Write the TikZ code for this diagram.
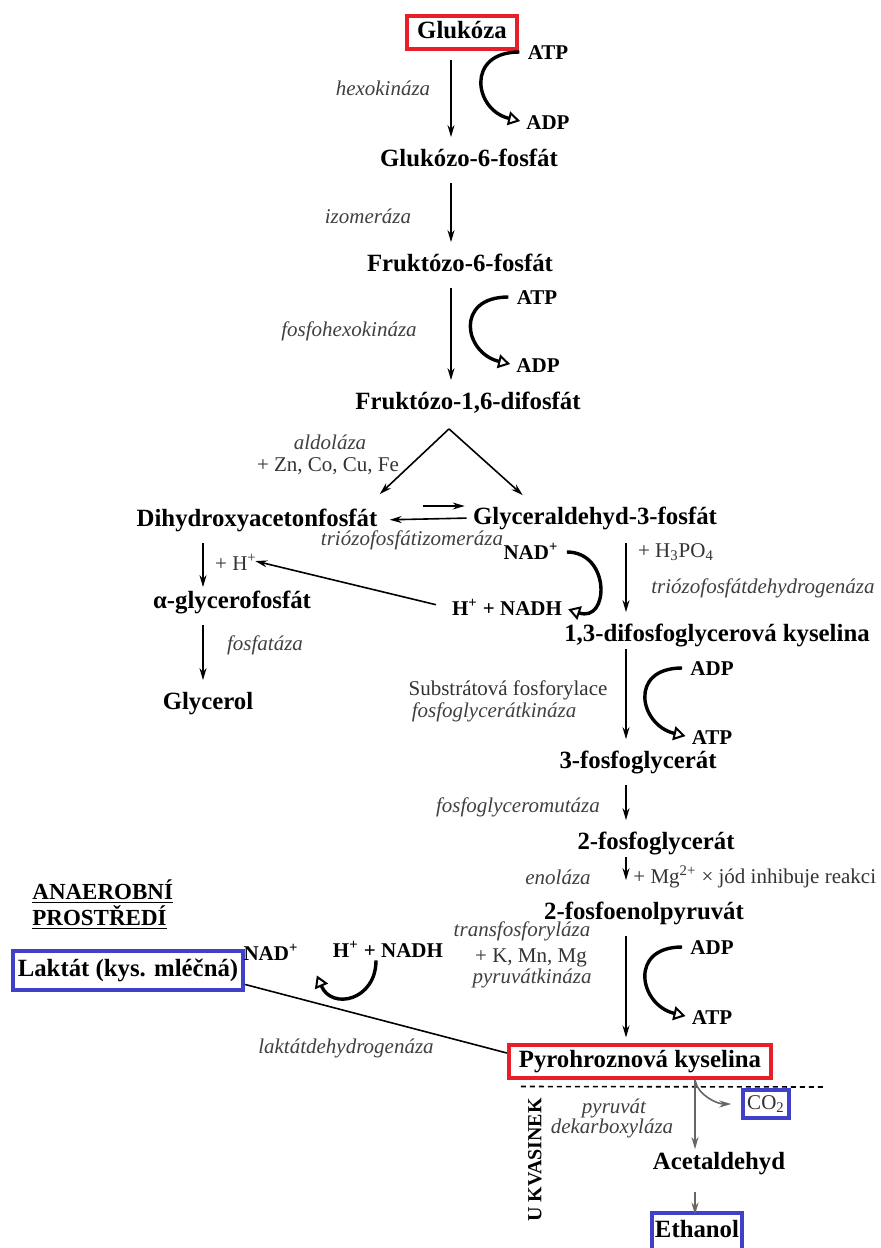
\documentclass[tikz,border=0pt]{standalone}
\usepackage{fontspec}
\setmainfont{Liberation Serif}
\usepackage{tikz}
\usetikzlibrary{arrows.meta,calc,positioning}

\newcommand{\metsize}{\fontsize{12.4}{14}\selectfont}
\newcommand{\labsize}{\fontsize{10.5}{12.5}\selectfont}
\definecolor{boxred}{RGB}{232,30,40}
\definecolor{boxblue}{RGB}{64,64,200}

\begin{document}
\begin{tikzpicture}[x=0.5pt,y=-0.5pt,
  met/.style={font=\metsize\bfseries, inner sep=1pt, text height=9pt, text depth=2.5pt},
  cof/.style={font=\labsize\bfseries, inner sep=1pt, text height=7.5pt, text depth=0.5pt},
  enz/.style={font=\labsize\itshape, text=black!75, inner sep=1pt},
  note/.style={font=\labsize, text=black!80, inner sep=1pt},
  redbox/.style={draw=boxred, line width=2pt, inner xsep=5pt, inner ysep=2.5pt},
  bluebox/.style={draw=boxblue, line width=2pt},
  reac/.style={-{Stealth[length=6pt,width=3.5pt]}, line width=0.8pt, shorten <=4.5pt, shorten >=4.5pt},
  cyc/.style={-{Triangle[open,length=6pt,width=7pt,line width=1pt]}, line width=1.7pt, shorten <=3pt, shorten >=2pt},
  yeast/.style={reac, draw=black!60, line width=0.9pt}]

\path[use as bounding box, fill=white] (0,0) rectangle (881,1248);

\coordinate (sp1) at (451,0);
\coordinate (sp2) at (626,0);
\coordinate (sp3) at (203,0);
\coordinate (ysp) at (695,0);

\node[met, redbox] (glc) at (462,32) {Glukóza};
\node[cof] (atp1) at (548,52) {ATP};
\node[cof] (adp1) at (548,122) {ADP};
\node[enz] (hk) at (383,88) {hexokináza};
\node[met] (g6p) at (469,160) {Glukózo-6-fosfát};
\node[enz] (izo) at (368,216) {izomeráza};
\node[met] (f6p) at (460,265) {Fruktózo-6-fosfát};
\node[cof] (atp2) at (537,297) {ATP};
\node[cof] (adp2) at (538,365) {ADP};
\node[enz] (pfk) at (349,331) {fosfohexokináza};
\node[met] (f16) at (468,403) {Fruktózo-1,6-difosfát};
\node[enz] (ald) at (330,442) {aldoláza};
\node[note] (zn) at (328,466) {+ Zn, Co, Cu, Fe};

\node[met] (dhap) at (257,520) {Dihydroxyacetonfosfát};
\node[met] (g3p) at (595,518) {Glyceraldehyd-3-fosfát};
\node[enz] (tim) at (412,540) {triózofosfátizomeráza};
\node[cof] (nad1) at (531,552) {NAD\textsuperscript{+}};
\node[cof] (nadh1) at (507,608) {H\textsuperscript{+} + NADH};
\node[note] (hplus) at (236,562) {+ H\textsuperscript{+}};
\node[met] (agp) at (232,602) {α-glycerofosfát};
\node[enz] (fos) at (265,645) {fosfatáza};
\node[met] (gly) at (208,703) {Glycerol};
\node[note] (pi) at (676,552) {+ H\textsubscript{3}PO\textsubscript{4}};
\node[enz] (gapdh) at (763,588) {triózofosfátdehydrogenáza};

\node[met] (bpg) at (717,635) {1,3-difosfoglycerová kyselina};
\node[cof] (adp3) at (712,668) {ADP};
\node[cof] (atp3) at (712,737) {ATP};
\node[note] (sub) at (508,690) {Substrátová fosforylace};
\node[enz] (pgk) at (494,712) {fosfoglycerátkináza};
\node[met] (pg3) at (638,762) {3-fosfoglycerát};
\node[enz] (pgm) at (518,807) {fosfoglyceromutáza};
\node[met] (pg2) at (656,843) {2-fosfoglycerát};
\node[enz] (eno) at (558,877) {enoláza};
\node[note, anchor=west] (mg) at (631,877) {+ Mg\textsuperscript{2+} × jód inhibuje reakci};
\node[met] (pep) at (644,913) {2-fosfoenolpyruvát};
\node[enz] (tpl) at (522,931) {transfosforyláza};
\node[note] (kmn) at (531,958) {+ K, Mn, Mg};
\node[enz] (pk) at (532,978) {pyruvátkináza};
\node[cof] (adp4) at (712,947) {ADP};
\node[cof] (atp4) at (712,1017) {ATP};
\node[met, redbox] (pyr) at (640,1061) {Pyrohroznová kyselina};

\node[note, bluebox, inner xsep=2pt, inner ysep=2.5pt] (co2) at (766,1104) {CO\textsubscript{2}};
\node[enz] (pdc1) at (614,1108) {pyruvát};
\node[enz] (pdc2) at (612,1128) {dekarboxyláza};
\node[font=\fontsize{10}{12}\selectfont\bfseries, rotate=90, inner sep=0pt] (kvas) at (535,1160) {U KVASINEK};
\node[met] (acet) at (719,1163) {Acetaldehyd};
\node[met, bluebox, inner xsep=1.5pt, inner ysep=3.5pt] (eth) at (697,1231) {Ethanol};
\coordinate (dashend) at (825,1087);

\node[font=\fontsize{11.5}{12}\selectfont\bfseries, anchor=west, align=left, inner sep=0pt] (anaer) at (32,905) {\underline{ANAEROBNÍ}\\\underline{PROSTŘEDÍ}};
\node[met, bluebox, inner xsep=2.5pt, inner ysep=4pt] (lak) at (128,970) {Laktát (kys. mléčná)};
\node[cof] (nad2) at (271,953) {NAD\textsuperscript{+}};
\node[cof] (nadh2) at (388,950) {H\textsuperscript{+} + NADH};
\node[enz] (ldh) at (346,1048) {laktátdehydrogenáza};

\draw[reac] (glc.south -| sp1) -- (g6p.north -| sp1);
\draw[reac] (g6p.south -| sp1) -- (f6p.north -| sp1);
\draw[reac] (f6p.south -| sp1) -- (f16.north -| sp1);
\draw[cyc] (atp1.west) .. controls +(-60,0) and +(-50,-12) .. (adp1.west);
\draw[cyc] (atp2.west) .. controls +(-60,0) and +(-50,-12) .. (adp2.west);

\coordinate (apex) at ([xshift=-9.5pt,yshift=-6pt]f16.south);
\draw[reac, shorten <=0pt, shorten >=0pt] (apex) -- ([yshift=6pt]dhap.north east);
\draw[reac, shorten <=0pt, shorten >=0pt] (apex) -- ([xshift=26pt,yshift=4.5pt]g3p.north west);
\draw[reac, shorten <=2pt, shorten >=5pt] (g3p.west) -- (dhap.east);
\draw[reac, line width=0.6pt, shorten <=0pt, shorten >=0pt] ([xshift=-24pt,yshift=6pt]g3p.west) -- ([xshift=-3pt,yshift=6pt]g3p.west);

\draw[cyc] (nad1.east) .. controls +(50,0) and +(45,15) .. (nadh1.east);
\draw[reac, shorten <=7pt, shorten >=-2pt] (nadh1.west) -- (hplus.east);
\draw[reac, shorten >=0.5pt] (dhap.south -| sp3) -- (agp.north -| sp3);
\draw[reac] (agp.south -| sp3) -- (gly.north -| sp3);

\draw[reac, shorten <=5.5pt] (g3p.south -| sp2) -- (bpg.north -| sp2);
\draw[reac, shorten <=0pt] (bpg.south -| sp2) -- (pg3.north -| sp2);
\draw[cyc] (adp3.west) .. controls +(-60,0) and +(-50,-12) .. (atp3.west);
\draw[reac] (pg3.south -| sp2) -- (pg2.north -| sp2);
\draw[reac, shorten <=0pt, shorten >=9.5pt] (pg2.south -| sp2) -- (pep.north -| sp2);
\draw[reac, shorten >=2.5pt] (pep.south -| sp2) -- (pyr.north -| sp2);
\draw[cyc] (adp4.west) .. controls +(-60,0) and +(-50,-12) .. (atp4.west);

\draw[line width=0.8pt] ([yshift=3.5pt]lak.south east) -- ([yshift=4pt]pyr.west);
\draw[cyc, shorten <=0pt, shorten >=0pt] ([xshift=-6pt]nadh2.south) .. controls +(0,40) and +(15,35) .. ([xshift=8pt,yshift=-6pt]nad2.south east);

\draw[line width=0.8pt, dash pattern=on 2.5pt off 2pt] ([xshift=7pt,yshift=-3.5pt]pyr.south west) -- (dashend);
\draw[yeast, shorten <=0pt, shorten >=0pt] (pyr.south -| ysp) -- (acet.north -| ysp);
\draw[yeast, shorten <=7.5pt, shorten >=-2pt] (acet.south -| ysp) -- (eth.north -| ysp);
\draw[yeast, line width=0.8pt, shorten <=1pt, shorten >=0pt] (pyr.south -| ysp) .. controls +(3,15) and +(-15,0) .. ([xshift=-5pt]co2.west);

\end{tikzpicture}
\end{document}
